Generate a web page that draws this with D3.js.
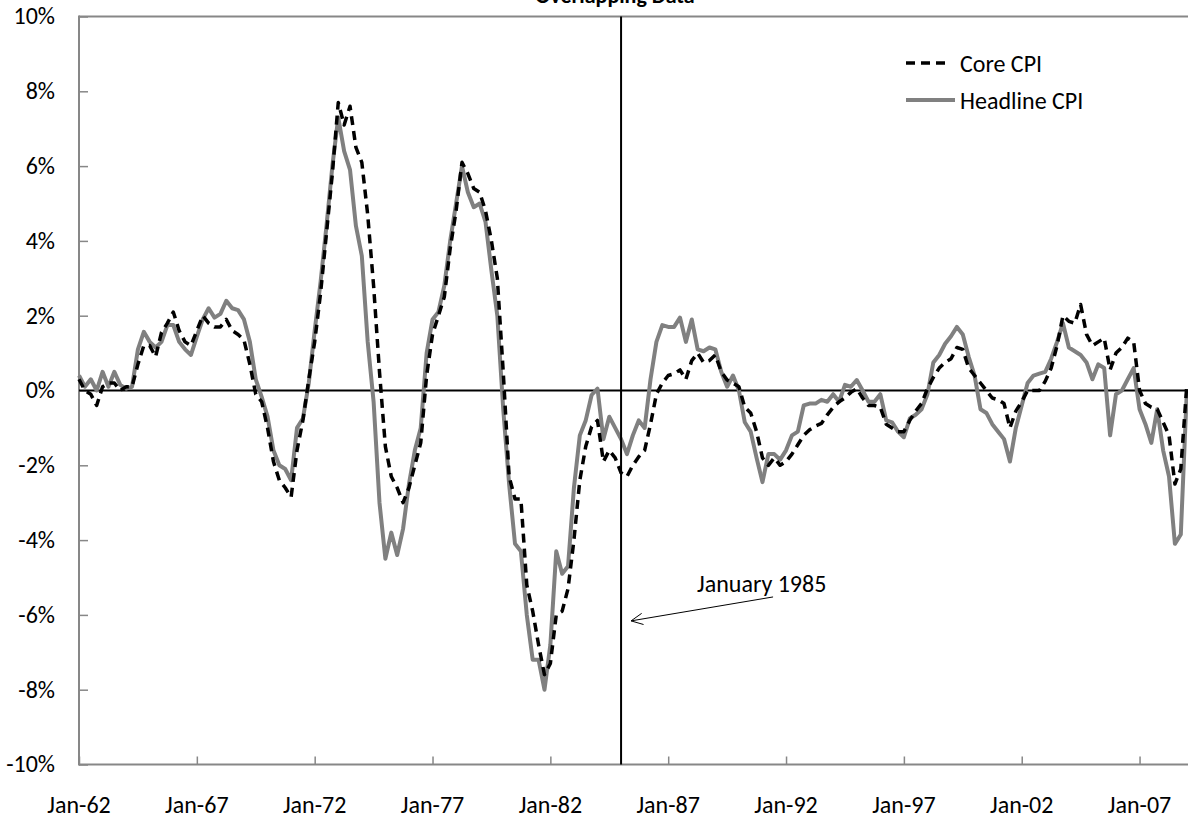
<!DOCTYPE html>
<html>
<head>
<meta charset="utf-8">
<script src="https://cdn.jsdelivr.net/npm/d3@7"></script>
<style>
  html, body { margin: 0; padding: 0; background: #fff; }
  svg { display: block; font-family: Carlito, Lato, "Liberation Sans", sans-serif; }
</style>
</head>
<body>
<svg id="chart" width="1188" height="823"></svg>
<script>
// ---- data (months since Jan-1962, sampled quarterly) ----
const monthIndex = d3.range(0, 565, 3);

const headlineCPI = [
  0.4, 0.1, 0.3, 0.0, 0.5, 0.1, 0.5, 0.15, 0.05, 0.1,
  1.1, 1.57, 1.3, 1.15, 1.3, 1.75, 1.75, 1.3, 1.1, 0.95,
  1.44, 1.9, 2.2, 1.95, 2.05, 2.4, 2.2, 2.15, 1.9, 1.3,
  0.3, -0.17, -0.7, -1.6, -2.0, -2.1, -2.4, -1.0, -0.75, 0.2,
  1.6, 2.9, 4.4, 6.0, 7.3, 6.4, 5.9, 4.4, 3.6, 1.3,
  -0.3, -3.0, -4.5, -3.8, -4.4, -3.7, -2.5, -1.6, -1.0, 1.0,
  1.9, 2.1, 2.8, 4.0, 5.0, 6.0, 5.3, 4.9, 5.0, 4.5,
  3.2, 2.0, -0.5, -2.5, -4.1, -4.3, -6.0, -7.2, -7.2, -8.0,
  -6.8, -4.3, -4.9, -4.7, -2.6, -1.2, -0.8, -0.12, 0.05, -1.3,
  -0.7, -1.0, -1.3, -1.7, -1.2, -0.8, -1.0, 0.3, 1.3, 1.75,
  1.7, 1.7, 1.95, 1.3, 1.9, 1.1, 1.05, 1.15, 1.1, 0.5,
  0.1, 0.4, 0.0, -0.85, -1.1, -1.8, -2.45, -1.7, -1.7, -1.85,
  -1.6, -1.2, -1.1, -0.4, -0.35, -0.35, -0.25, -0.3, -0.1, -0.3,
  0.15, 0.1, 0.28, 0.0, -0.3, -0.3, -0.1, -0.8, -0.85, -1.1,
  -1.25, -0.75, -0.65, -0.5, -0.1, 0.75, 0.95, 1.25, 1.45, 1.7,
  1.5, 0.9, 0.4, -0.5, -0.6, -0.9, -1.1, -1.3, -1.9, -1.0,
  -0.4, 0.2, 0.4, 0.45, 0.5, 0.85, 1.3, 1.8, 1.15, 1.05,
  0.95, 0.75, 0.3, 0.7, 0.6, -1.2, -0.1, 0.0, 0.3, 0.6,
  -0.5, -0.9, -1.4, -0.5, -1.6, -2.3, -4.1, -3.85, -0.1
];

const coreCPI = [
  0.3, 0.0, -0.1, -0.4, 0.1, 0.2, 0.2, 0.0, 0.1, 0.1,
  0.7, 1.2, 1.2, 0.9, 1.55, 1.8, 2.1, 1.6, 1.3, 1.2,
  1.6, 2.0, 1.8, 1.7, 1.7, 1.9, 1.6, 1.5, 1.35, 0.7,
  -0.1, -0.3, -1.0, -1.9, -2.4, -2.6, -2.85, -1.6, -0.8, 0.3,
  1.3, 2.6, 4.2, 5.8, 7.7, 7.1, 7.6, 6.5, 6.1, 4.7,
  2.8, 0.5, -1.5, -2.3, -2.6, -3.0, -2.6, -2.0, -1.4, 0.4,
  1.5, 2.0, 2.5, 3.8, 4.8, 6.1, 5.8, 5.4, 5.3, 4.8,
  4.0, 3.0, 0.5, -2.3, -2.9, -2.9, -5.2, -5.9, -6.8, -7.6,
  -7.3, -6.0, -5.9, -5.3, -4.0, -2.4, -1.5, -0.97, -0.8, -1.9,
  -1.6, -1.8, -2.2, -2.3, -2.0, -1.77, -1.6, -0.9, -0.1, 0.2,
  0.4, 0.45, 0.55, 0.3, 0.8, 1.0, 0.75, 0.8, 0.95, 0.5,
  0.28, 0.2, 0.1, -0.45, -0.6, -1.1, -1.8, -2.0, -1.8, -2.0,
  -1.9, -1.7, -1.45, -1.2, -1.05, -0.95, -0.88, -0.65, -0.45, -0.3,
  -0.2, -0.05, 0.05, -0.2, -0.4, -0.4, -0.45, -0.9, -1.0, -1.1,
  -1.1, -0.8, -0.55, -0.35, 0.05, 0.35, 0.6, 0.75, 0.85, 1.15,
  1.1, 0.6, 0.4, 0.2, 0.0, -0.2, -0.25, -0.35, -1.0, -0.55,
  -0.3, 0.0, 0.0, 0.0, 0.25, 0.6, 1.2, 2.0, 1.85, 1.8,
  2.3, 1.5, 1.2, 1.3, 1.4, 0.55, 1.0, 1.15, 1.4, 1.3,
  0.0, -0.35, -0.45, -0.5, -0.85, -1.2, -2.5, -2.1, 0.1
];

const tickMonths = [0, 60, 120, 180, 240, 300, 360, 420, 480, 540];
const tickLabels = ["Jan-62", "Jan-67", "Jan-72", "Jan-77", "Jan-82",
                    "Jan-87", "Jan-92", "Jan-97", "Jan-02", "Jan-07"];
const yTicks = [-10, -8, -6, -4, -2, 0, 2, 4, 6, 8, 10];
const markerMonth = 276;           // January 1985
const markerLabel = "January 1985";
const seriesNames = ["Core CPI", "Headline CPI"];
const titleText = "Overlapping Data";

// ---- layout ----
const svg = d3.select("#chart");
const pLeft = 79, pTop = 16.5, pBottom = 764.5;
const pxPerMonth = 1.964;
const x = d3.scaleLinear().domain([0, 565]).range([pLeft, pLeft + 565 * pxPerMonth]);
const y = d3.scaleLinear().domain([-10, 10]).range([pBottom, pTop]);
const pRight = x(565);
const axisGray = "#878787";
const fontSize = 24;

// title (mostly clipped at the top, as in the original)
svg.append("text")
  .attr("x", 615).attr("y", 3)
  .attr("text-anchor", "middle")
  .attr("font-weight", "bold")
  .attr("font-size", 22)
  .text(titleText);

// plot border top
svg.append("line")
  .attr("x1", pLeft).attr("x2", pRight).attr("y1", pTop).attr("y2", pTop)
  .attr("stroke", axisGray).attr("stroke-width", 2);

// y axis
const yAxis = d3.axisRight(y).tickValues(yTicks).tickSize(9).tickFormat("");
const gy = svg.append("g").attr("transform", `translate(${pLeft},0)`).call(yAxis);
gy.select(".domain").remove();
gy.selectAll(".tick line").attr("stroke", axisGray).attr("stroke-width", 1.5);
svg.append("line")
  .attr("x1", pLeft).attr("x2", pLeft).attr("y1", pTop - 1).attr("y2", pBottom + 1)
  .attr("stroke", axisGray).attr("stroke-width", 2);
svg.append("g").selectAll("text").data(yTicks).join("text")
  .attr("x", 55).attr("y", d => y(d))
  .attr("dy", "0.33em")
  .attr("text-anchor", "end")
  .attr("font-size", fontSize)
  .attr("fill", "#000")
  .text(d => d + "%");

// x axis
const xAxis = d3.axisTop(x).tickValues(tickMonths).tickSize(8).tickFormat("");
const gx = svg.append("g").attr("transform", `translate(0,${pBottom})`).call(xAxis);
gx.select(".domain").remove();
gx.selectAll(".tick line").attr("stroke", axisGray).attr("stroke-width", 1.5);
svg.append("line")
  .attr("x1", pLeft).attr("x2", pRight).attr("y1", pBottom).attr("y2", pBottom)
  .attr("stroke", axisGray).attr("stroke-width", 2);
svg.append("g").selectAll("text").data(tickMonths).join("text")
  .attr("x", d => x(d)).attr("y", 813)
  .attr("text-anchor", "middle")
  .attr("font-size", fontSize)
  .attr("fill", "#000")
  .text((d, i) => tickLabels[i]);

// zero line
svg.append("line")
  .attr("x1", pLeft).attr("x2", pRight).attr("y1", y(0)).attr("y2", y(0))
  .attr("stroke", "#000").attr("stroke-width", 2);

// series
const line = d3.line().x((d, i) => x(monthIndex[i])).y(d => y(d));
svg.append("path").datum(headlineCPI)
  .attr("d", line).attr("fill", "none")
  .attr("stroke", "#808080").attr("stroke-width", 4)
  .attr("stroke-linejoin", "round");
svg.append("path").datum(coreCPI)
  .attr("d", line).attr("fill", "none")
  .attr("stroke", "#000").attr("stroke-width", 3.5)
  .attr("stroke-dasharray", "9,6")
  .attr("stroke-linejoin", "round");

// January 1985 marker line
svg.append("line")
  .attr("x1", x(markerMonth)).attr("x2", x(markerMonth))
  .attr("y1", pTop).attr("y2", pBottom)
  .attr("stroke", "#000").attr("stroke-width", 2);

// annotation
const tipX = x(markerMonth) + 10, tipY = y(-6.16);
const tailX = x(353.4), tailY = y(-5.52);
svg.append("line")
  .attr("x1", tailX).attr("y1", tailY).attr("x2", tipX).attr("y2", tipY)
  .attr("stroke", "#000").attr("stroke-width", 1);
const ang = Math.atan2(tailY - tipY, tailX - tipX);
const ah = 13, spread = 0.45;
svg.append("path")
  .attr("d", `M${tipX + ah * Math.cos(ang - spread)},${tipY + ah * Math.sin(ang - spread)} L${tipX},${tipY} L${tipX + ah * Math.cos(ang + spread)},${tipY + ah * Math.sin(ang + spread)}`)
  .attr("fill", "none").attr("stroke", "#000").attr("stroke-width", 1);
svg.append("text")
  .attr("x", x(314.7)).attr("y", y(-5.39))
  .attr("font-size", fontSize)
  .text(markerLabel);

// legend
const legendX1 = 906, legendTextX = 960;
const legendRows = [
  { name: seriesNames[0], y: 63, x2: 947, stroke: "#000", width: 3.5, dash: "9,6" },
  { name: seriesNames[1], y: 100, x2: 955, stroke: "#808080", width: 4, dash: null }
];
const lg = svg.append("g");
legendRows.forEach(r => {
  lg.append("line")
    .attr("x1", legendX1).attr("x2", r.x2).attr("y1", r.y).attr("y2", r.y)
    .attr("stroke", r.stroke).attr("stroke-width", r.width)
    .attr("stroke-dasharray", r.dash);
  lg.append("text")
    .attr("x", legendTextX).attr("y", r.y + 9)
    .attr("font-size", fontSize)
    .text(r.name);
});
</script>
</body>
</html>
